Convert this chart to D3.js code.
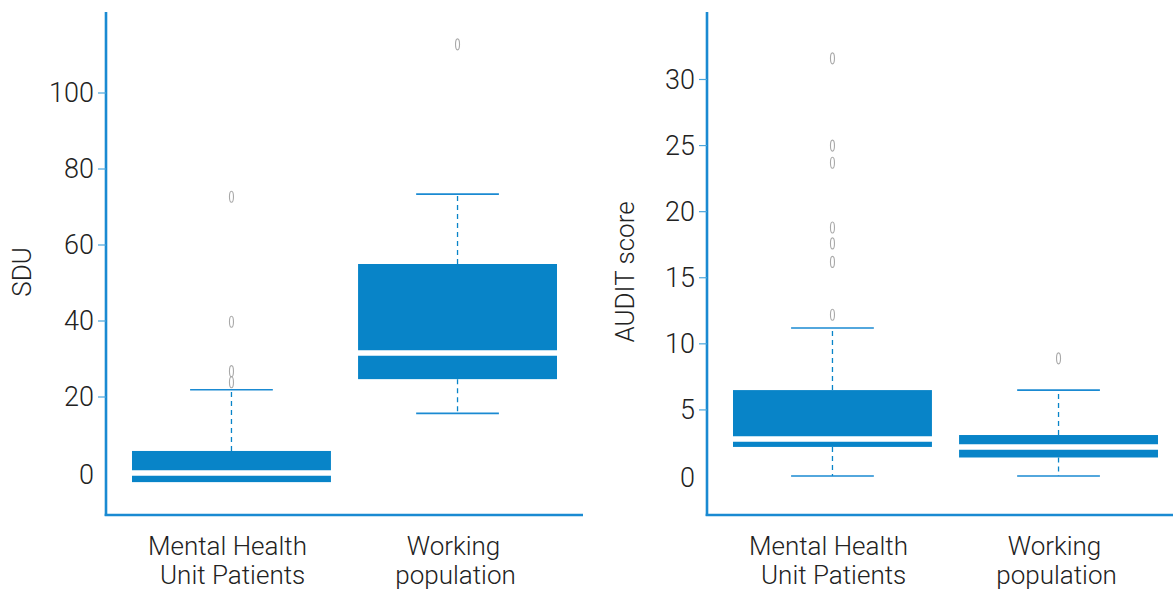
<!DOCTYPE html>
<html>
<head>
<meta charset="utf-8">
<script src="https://cdn.jsdelivr.net/npm/d3@7"></script>
<style>
  body { margin: 0; background: #fff; }
  text { font-family: Roboto, "Open Sans", sans-serif; font-weight: 300; fill: #222; }
</style>
</head>
<body>
<div id="chart"></div>
<script>
// group labels (line breaks as in the picture)
let categories = [["Mental Health", " Unit Patients"], ["Working", "population"]];

// box stats: lower whisker, Q1, median, Q3, upper whisker
let sduLow = [0, 15.7], sduQ1 = [-2.4, 24.7], sduMed = [0, 31.6], sduQ3 = [5.8, 55.0], sduHigh = [21.9, 73.4];
let sduOut = [[72.7, 39.8, 26.8, 23.9], [112.8]];
let sduTicks = [0, 20, 40, 60, 80, 100];

let auditLow = [0, 0], auditQ1 = [2.2, 1.4], auditMed = [2.8, 2.2], auditQ3 = [6.5, 3.1], auditHigh = [11.2, 6.5];
let auditOut = [[31.6, 25.0, 23.7, 18.8, 17.6, 16.2, 12.2], [8.9]];
let auditTicks = [0, 5, 10, 15, 20, 25, 30];

const blue = "#0884c8", axisBlue = "#1a8ad2";

let svg = d3.select("#chart").append("svg").attr("width", 1173).attr("height", 592);

function panel(opts) {
  let g = svg.append("g");
  // x positions: groups at 1 and 2
  let x = d3.scaleLinear().domain([0.445, 2.555]).range([opts.left, opts.left + 477]);
  let y = d3.scaleLinear().domain(opts.yDomain).range(opts.yRange);
  let boxW = x(1.44) - x(0.56), capW = x(1.183) - x(0.817);

  let rows = categories.map((c, i) => ({
    i: i, lo: opts.low[i], q1: opts.q1[i], med: opts.med[i], q3: opts.q3[i], hi: opts.high[i], out: opts.out[i]
  }));

  // whiskers (dashed)
  rows.forEach(d => {
    let cx = x(d.i + 1);
    g.append("line").attr("x1", cx).attr("x2", cx).attr("y1", y(d.q3)).attr("y2", y(d.hi))
      .attr("stroke", blue).attr("stroke-width", 1.3).attr("stroke-dasharray", "5,4");
    if (d.lo < d.q1) {
      g.append("line").attr("x1", cx).attr("x2", cx).attr("y1", y(d.q1)).attr("y2", y(d.lo))
        .attr("stroke", blue).attr("stroke-width", 1.3).attr("stroke-dasharray", "5,4");
    }
    [d.lo, d.hi].forEach(v => {
      g.append("line").attr("x1", cx - capW / 2).attr("x2", cx + capW / 2).attr("y1", y(v)).attr("y2", y(v))
        .attr("stroke", axisBlue).attr("stroke-width", 1.6);
    });
  });

  // boxes
  g.selectAll(".box").data(rows).join("rect").attr("class", "box")
    .attr("x", d => x(d.i + 1) - boxW / 2).attr("width", boxW)
    .attr("y", d => y(d.q3)).attr("height", d => y(d.q1) - y(d.q3))
    .attr("fill", blue);

  // medians as white bands
  g.selectAll(".med").data(rows).join("line").attr("class", "med")
    .attr("x1", d => x(d.i + 1) - boxW / 2 - 1).attr("x2", d => x(d.i + 1) + boxW / 2 + 1)
    .attr("y1", d => y(d.med)).attr("y2", d => y(d.med))
    .attr("stroke", "#fff").attr("stroke-width", 5.5);

  // outliers
  rows.forEach(d => {
    g.selectAll(null).data(d.out).join("ellipse")
      .attr("cx", x(d.i + 1)).attr("cy", v => y(v)).attr("rx", 2).attr("ry", 5.5)
      .attr("fill", "none").attr("stroke", "#a8a8a8").attr("stroke-width", 1.1);
  });

  // y axis
  g.append("line").attr("x1", opts.left).attr("x2", opts.left).attr("y1", 12).attr("y2", 516)
    .attr("stroke", axisBlue).attr("stroke-width", 2.6);
  g.append("line").attr("x1", opts.left - 1.3).attr("x2", opts.left + 477).attr("y1", 515).attr("y2", 515)
    .attr("stroke", axisBlue).attr("stroke-width", 2.6);
  opts.ticks.forEach(t => {
    if (t !== 0) {
      g.append("line").attr("x1", opts.left - 8).attr("x2", opts.left).attr("y1", y(t)).attr("y2", y(t))
        .attr("stroke", "#4aa6dc").attr("stroke-width", 1.2);
    }
    g.append("text").attr("x", opts.left - 12).attr("y", t === 0 ? y(t) + 2 : y(t))
      .attr("dy", "0.35em").attr("text-anchor", "end").style("font-size", "27px").text(t);
  });

  // y title
  g.append("text").attr("transform", `translate(${opts.titleX},272) rotate(-90)`)
    .attr("text-anchor", "middle").attr("dy", "0.35em").style("font-size", "26px").text(opts.title);

  // group labels
  categories.forEach((lines, i) => {
    let t = g.append("text").attr("x", x(i + 1) - 3).attr("y", 555)
      .attr("text-anchor", "middle").style("font-size", "26px");
    lines.forEach((l, k) => {
      t.append("tspan").attr("x", x(i + 1) - 4 + (k === 1 ? 2 : 0)).attr("y", 555 + k * 29).text(l);
    });
  });
}

panel({
  left: 106, yDomain: [0, 100], yRange: [473, 93], ticks: sduTicks, title: "SDU", titleX: 22,
  low: sduLow, q1: sduQ1, med: sduMed, q3: sduQ3, high: sduHigh, out: sduOut
});
panel({
  left: 707, yDomain: [0, 30], yRange: [476, 79.5], ticks: auditTicks, title: "AUDIT score", titleX: 625,
  low: auditLow, q1: auditQ1, med: auditMed, q3: auditQ3, high: auditHigh, out: auditOut
});
</script>
</body>
</html>
